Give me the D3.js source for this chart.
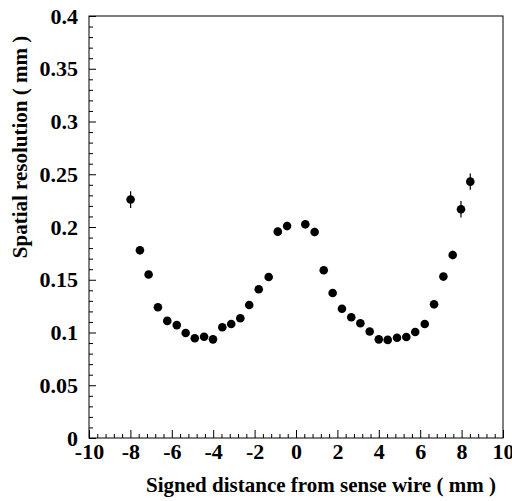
<!DOCTYPE html>
<html>
<head>
<meta charset="utf-8">
<script src="https://cdn.jsdelivr.net/npm/d3@7"></script>
<style>
  body { margin: 0; background: #fff; }
  text { font-family: "Liberation Serif", "Times New Roman", serif; font-weight: bold; fill: #000; }
</style>
</head>
<body>
<script>
// Measured points (distance in mm, resolution in mm)
const distance = [
  -7.99, -7.54, -7.12, -6.67, -6.22, -5.76, -5.33, -4.89, -4.44, -4.01,
  -3.56, -3.13, -2.69, -2.26, -1.80, -1.32, -0.88, -0.43,
   0.45,  0.90,  1.34,  1.77,  2.22,  2.67,  3.11,  3.56,  4.00,  4.43,
   4.88,  5.33,  5.76,  6.22,  6.67,  7.12,  7.57,  7.97,  8.42
];
const resolution = [
  0.226, 0.178, 0.155, 0.124, 0.111, 0.107, 0.0995, 0.0945, 0.096, 0.0935,
  0.105, 0.108, 0.1135, 0.126, 0.141, 0.1526, 0.1956, 0.201,
  0.2026, 0.1953, 0.159, 0.1375, 0.1225, 0.1145, 0.1087, 0.101, 0.0935, 0.093,
  0.095, 0.0957, 0.1005, 0.108, 0.1267, 0.153, 0.1735, 0.2168, 0.243
];
const errors = [
  0.008, 0.004, 0.003, 0.003, 0.003, 0.003, 0.003, 0.003, 0.003, 0.003,
  0.003, 0.003, 0.003, 0.003, 0.003, 0.003, 0.004, 0.004,
  0.004, 0.004, 0.003, 0.003, 0.003, 0.003, 0.003, 0.003, 0.003, 0.003,
  0.003, 0.003, 0.003, 0.003, 0.003, 0.003, 0.004, 0.0078, 0.0078
];

// Tick labels
const xTicks = [-10, -8, -6, -4, -2, 0, 2, 4, 6, 8, 10];
const yTicks = [0, 0.05, 0.1, 0.15, 0.2, 0.25, 0.3, 0.35, 0.4];
const yTickLabels = ["0", "0.05", "0.1", "0.15", "0.2", "0.25", "0.3", "0.35", "0.4"];

const W = 512, H = 501;
const margin = {top: 16, right: 9, bottom: 63, left: 89};
const width = W - margin.left - margin.right,
      height = H - margin.top - margin.bottom;

const svg = d3.select("body").append("svg")
    .attr("width", W)
    .attr("height", H);

const g = svg.append("g")
    .attr("transform", `translate(${margin.left},${margin.top})`);

const x = d3.scaleLinear().domain([-10, 10]).range([0, width]);
const y = d3.scaleLinear().domain([0, 0.4]).range([height, 0]);

// minor ticks
const xMinor = d3.range(-10, 10.001, 0.4).filter(v => Math.abs(v / 2 - Math.round(v / 2)) > 1e-6);
const yMinor = d3.range(0, 0.4001, 0.01).filter(v => Math.abs(v / 0.05 - Math.round(v / 0.05)) > 1e-6);

g.append("g")
    .attr("transform", `translate(0,${height})`)
    .call(d3.axisBottom(x).tickValues(xMinor).tickSize(-4).tickFormat(""))
    .call(a => a.select(".domain").remove());

g.append("g")
    .call(d3.axisLeft(y).tickValues(yMinor).tickSize(-4).tickFormat(""))
    .call(a => a.select(".domain").remove());

// major ticks
const xAxis = g.append("g")
    .attr("transform", `translate(0,${height})`)
    .call(d3.axisBottom(x).tickValues(xTicks).tickSize(-8).tickPadding(5).tickFormat(d => d));
xAxis.select(".domain").remove();
xAxis.selectAll("text").attr("font-size", 22).attr("dy", "0.71em");

const yAxis = g.append("g")
    .call(d3.axisLeft(y).tickValues(yTicks).tickSize(-7).tickPadding(11)
      .tickFormat((d, i) => yTickLabels[i]));
yAxis.select(".domain").remove();
yAxis.selectAll("text").attr("font-size", 22);

g.selectAll(".tick line").attr("stroke", "#000");

// frame
g.append("rect")
    .attr("width", width)
    .attr("height", height)
    .attr("fill", "none")
    .attr("stroke", "#000")
    .attr("stroke-width", 1);

// error bars
g.selectAll("line.err")
  .data(distance)
  .enter().append("line")
  .attr("class", "err")
  .attr("x1", d => x(d))
  .attr("x2", d => x(d))
  .attr("y1", (d, i) => y(resolution[i] - errors[i]))
  .attr("y2", (d, i) => y(resolution[i] + errors[i]))
  .attr("stroke", "#000")
  .attr("stroke-width", 1.2);

// points
g.selectAll("path.pt")
  .data(distance)
  .enter().append("path")
  .attr("class", "pt")
  .attr("transform", (d, i) => `translate(${x(d)},${y(resolution[i])})`)
  .attr("d", d3.symbol().type(d3.symbolCircle).size(58))
  .attr("fill", "#000");

// axis titles
svg.append("text")
    .attr("x", 321)
    .attr("y", 492)
    .attr("text-anchor", "middle")
    .attr("font-size", 21)
    .text("Signed distance from sense wire  ( mm )");

svg.append("text")
    .attr("transform", "translate(27,147) rotate(-90)")
    .attr("text-anchor", "middle")
    .attr("font-size", 21)
    .text("Spatial resolution ( mm )");
</script>
</body>
</html>
